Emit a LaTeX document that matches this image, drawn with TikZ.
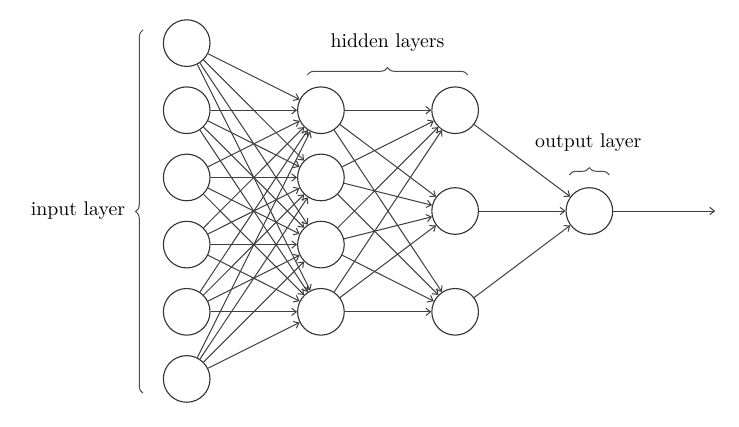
\documentclass[tikz,border=0pt]{standalone}
\usetikzlibrary{decorations.pathreplacing,arrows.meta}
\begin{document}
\begin{tikzpicture}[
    font=\fontsize{10.7}{13}\selectfont,
    neuron/.style={draw=black!80,circle,minimum size=0.886cm,inner sep=0pt,line width=0.6pt},
    edge/.style={->,>={Straight Barb[length=2.5pt,width=4pt]},draw=black!75,line width=0.55pt},
    grp/.style={decorate,decoration={brace,amplitude=4pt},draw=black!70,line width=0.55pt}
]
        \useasboundingbox (-3.547,-4.085) rectangle (10.493,4.009);

        % input layer
        \foreach \k/\y in {1/3.19,2/1.915,3/0.638,4/-0.638,5/-1.915,6/-3.19}
            \node[neuron] (i\k) at (0,\y){};
        % hidden layers
        \foreach \k/\y in {1/1.915,2/0.638,3/-0.638,4/-1.915}
            \node[neuron] (ha\k) at (2.55,\y){};
        \foreach \k/\y in {1/1.915,2/0,3/-1.915}
            \node[neuron] (hb\k) at (5.1,\y){};
        % output layer
        \node[neuron] (o) at (7.65,0){};
        \coordinate (out) at (10.04,0);

        \foreach \a in {1,...,6}
            \foreach \b in {1,...,4}
                \draw[edge] (i\a) -- (ha\b);
        \foreach \a in {1,...,4}
            \foreach \b in {1,...,3}
                \draw[edge] (ha\a) -- (hb\b);
        \foreach \a in {1,...,3}
            \draw[edge] (hb\a) -- (o);
        \draw[edge] (o) -- (out);

        \draw[grp] (-0.83,-3.46) -- (-0.83,3.44);
        \node (inlbl) at (-2.065,0) {input layer};
        \draw[grp] (2.29,2.584) -- (5.34,2.584);
        \node (hidlbl) at (3.815,3.19) {hidden layers};
        \draw[grp] (7.27,0.684) -- (8.03,0.684);
        \node (outlbl) at (7.63,1.29) {output layer};
    \end{tikzpicture}
\end{document}
